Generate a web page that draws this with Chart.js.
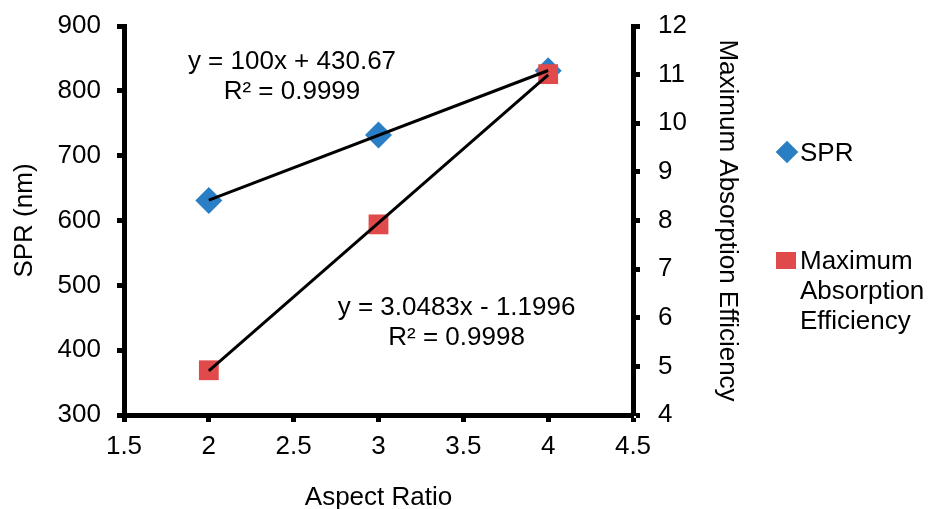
<!DOCTYPE html>
<html>
<head>
<meta charset="utf-8">
<script src="https://cdn.jsdelivr.net/npm/chart.js@4.4.1/dist/chart.umd.min.js"></script>
<style>
  body { margin: 0; background: #fff; font-family: "Liberation Sans", Arial, sans-serif; }
  #wrap { position: relative; width: 928px; height: 509px; }
  .leg { position: absolute; left: 776px; font-size: 26px; line-height: 30px; color: #000; }
  .mark { position: absolute; left: 0; }
  .leg span { display: block; padding-left: 24px; }
</style>
</head>
<body>
<div id="wrap">
  <canvas id="chart" width="928" height="509"></canvas>
  <div class="leg" style="top:137px">
    <div class="mark" style="top:7px;left:3px;width:16px;height:16px;background:#2a7ec3;transform:rotate(45deg)"></div>
    <span>SPR</span>
  </div>
  <div class="leg" style="top:245px">
    <div class="mark" style="top:7px;width:20px;height:17px;background:#e04a4a"></div>
    <span>Maximum<br>Absorption<br>Efficiency</span>
  </div>
</div>
<script>
const aspectRatio = [2, 3, 4]
const sprValues = [631, 732, 831]
const absorptionValues = [4.92, 7.92, 11.01]

const xTicks = [1.5, 2, 2.5, 3, 3.5, 4, 4.5]
const sprTicks = [300, 400, 500, 600, 700, 800, 900]
const absTicks = [4, 5, 6, 7, 8, 9, 10, 11, 12]

const sprLabel = ["y = 100x + 430.67", "R² = 0.9999"]
const absLabel = ["y = 3.0483x - 1.1996", "R² = 0.9998"]

const blue = "#2a7ec3"
const red = "#e04a4a"
const font = "'Liberation Sans', Arial, sans-serif"
const fs = 26

// least squares line through the points, drawn from first to last x
function trend(xs, ys) {
  const n = xs.length
  const mx = xs.reduce((a, b) => a + b, 0) / n
  const my = ys.reduce((a, b) => a + b, 0) / n
  let sxy = 0, sxx = 0
  xs.forEach((x, i) => { sxy += (x - mx) * (ys[i] - my); sxx += (x - mx) * (x - mx) })
  const m = sxy / sxx, b = my - m * mx
  return [xs[0], xs[n - 1]].map(x => ({ x: x, y: m * x + b }))
}

const pts = (xs, ys) => xs.map((x, i) => ({ x: x, y: ys[i] }))

// equation labels, placed in data units
const labels = [
  { text: sprLabel, x: 2.49, y: 844, axis: 'ySpr' },
  { text: absLabel, x: 3.46, y: 465, axis: 'ySpr' }
]

const labelPlugin = {
  id: 'eqLabels',
  afterDatasetsDraw(chart) {
    const ctx = chart.ctx
    ctx.save()
    ctx.font = fs + "px " + font
    ctx.fillStyle = "#000"
    ctx.textAlign = "center"
    ctx.textBaseline = "middle"
    labels.forEach(l => {
      const px = chart.scales.x.getPixelForValue(l.x)
      const py = chart.scales[l.axis].getPixelForValue(l.y)
      l.text.forEach((t, i) => ctx.fillText(t, px, py + i * 30))
    })
    ctx.restore()
  }
}

const axisGrid = {
  drawOnChartArea: false,
  drawTicks: true,
  tickLength: 7,
  tickWidth: 5,
  tickColor: "#000"
}
const axisBorder = { display: true, width: 5, color: "#000" }
const tickFont = { family: font, size: fs }

// fixed axis sizes so the plot area sits where the original has it
const fitY = w => s => { s.width = w; s.paddingTop = 0; s.paddingBottom = 0 }

new Chart(document.getElementById("chart"), {
  type: 'scatter',
  data: {
    datasets: [
      { data: trend(aspectRatio, sprValues), yAxisID: 'ySpr', showLine: true, borderColor: "#000",
        borderWidth: 3, pointRadius: 0, order: 0 },
      { data: trend(aspectRatio, absorptionValues), yAxisID: 'yAbs', showLine: true, borderColor: "#000",
        borderWidth: 3, pointRadius: 0, order: 0 },
      { label: "Maximum Absorption Efficiency", data: pts(aspectRatio, absorptionValues), yAxisID: 'yAbs',
        pointStyle: 'rect', pointRadius: 14, backgroundColor: red, borderWidth: 0, order: 1 },
      { label: "SPR", data: pts(aspectRatio, sprValues), yAxisID: 'ySpr',
        pointStyle: 'rectRot', pointRadius: 13.5, backgroundColor: blue, borderWidth: 0, order: 2 }
    ]
  },
  options: {
    responsive: false,
    animation: false,
    layout: { padding: { left: 0, right: 183, top: 26, bottom: 0 } },
    plugins: { legend: { display: false }, tooltip: { enabled: false } },
    scales: {
      x: {
        type: 'linear', min: 1.5, max: 4.5,
        afterBuildTicks: s => { s.ticks = xTicks.map(v => ({ value: v })) },
        afterFit: s => { s.height = 94 },
        grid: axisGrid, border: axisBorder,
        ticks: { color: "#000", font: tickFont, padding: 9, callback: v => String(v) },
        title: { display: true, text: "Aspect Ratio", color: "#000", font: tickFont, padding: { top: 0, bottom: -4 } }
      },
      ySpr: {
        position: 'left', min: 300, max: 900,
        afterBuildTicks: s => { s.ticks = sprTicks.map(v => ({ value: v })) },
        afterFit: fitY(124),
        grid: axisGrid, border: axisBorder,
        ticks: { color: "#000", font: tickFont, padding: 16, callback: v => String(v) },
        title: { display: true, text: "SPR (nm)", color: "#000", font: tickFont, padding: { top: 9, bottom: 0 } }
      },
      yAbs: {
        position: 'right', min: 4, max: 12,
        afterBuildTicks: s => { s.ticks = absTicks.map(v => ({ value: v })) },
        afterFit: fitY(112),
        grid: axisGrid, border: axisBorder,
        ticks: { color: "#000", font: tickFont, padding: 18, callback: v => String(v) },
        title: { display: true, text: "Maximum Absorption Efficiency", color: "#000", font: tickFont, padding: { top: 2, bottom: 0 } }
      }
    }
  },
  plugins: [labelPlugin]
})
</script>
</body>
</html>
